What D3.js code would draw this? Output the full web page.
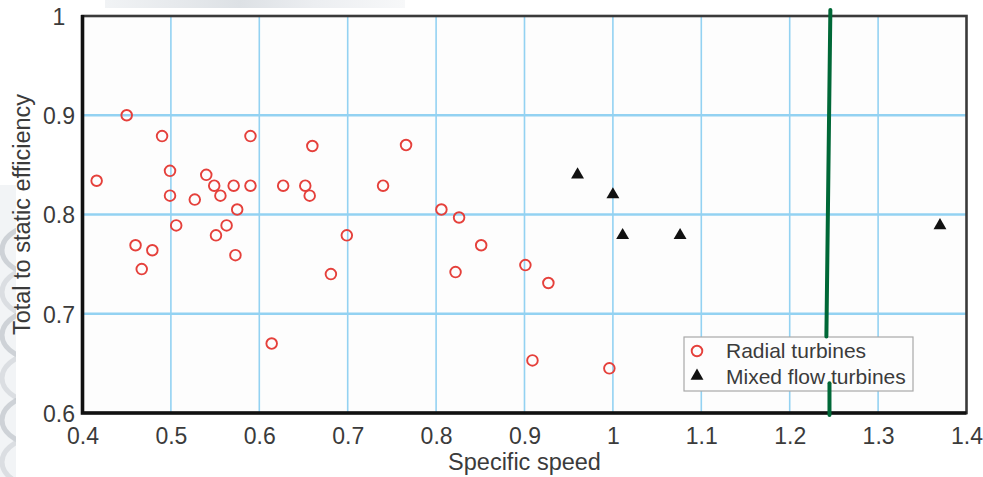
<!DOCTYPE html>
<html>
<head>
<meta charset="utf-8">
<script src="https://cdn.jsdelivr.net/npm/d3@7"></script>
<style>
  body { margin: 0; background: #fff; }
  svg { display: block; font-family: "Liberation Sans", Arial, sans-serif; }
</style>
</head>
<body>
<div class="chart"></div>
<script>
// radial turbines (open red circles)
const radialSpeed = [0.416, 0.45, 0.49, 0.499, 0.499, 0.527, 0.506, 0.46, 0.479, 0.467,
  0.54, 0.549, 0.556, 0.571, 0.59, 0.59, 0.575, 0.563, 0.551, 0.573,
  0.627, 0.652, 0.657, 0.66, 0.614, 0.681, 0.699, 0.74, 0.766, 0.806,
  0.826, 0.822, 0.851, 0.901, 0.927, 0.909, 0.996];
const radialEff = [0.834, 0.90, 0.879, 0.844, 0.819, 0.815, 0.789, 0.769, 0.764, 0.745,
  0.84, 0.829, 0.819, 0.829, 0.829, 0.879, 0.805, 0.789, 0.779, 0.759,
  0.829, 0.829, 0.819, 0.869, 0.67, 0.74, 0.779, 0.829, 0.87, 0.805,
  0.797, 0.742, 0.769, 0.749, 0.731, 0.653, 0.645];

// mixed flow turbines (black triangles)
const mixedSpeed = [0.96, 1.0, 1.011, 1.076, 1.37];
const mixedEff = [0.84, 0.82, 0.779, 0.779, 0.789];

const xTicks = [0.4, 0.5, 0.6, 0.7, 0.8, 0.9, 1, 1.1, 1.2, 1.3, 1.4];
const yTicks = [0.6, 0.7, 0.8, 0.9, 1];

// hand drawn green marker (two segments)
const markTop = [[1.246, 1.006], [1.2415, 0.677]];
const markBottom = [[1.245, 0.630], [1.245, 0.598]];

const width = 983, height = 477;
const pLeft = 82.5, pRight = 966.5, pTop = 16, pBottom = 413;

const x = d3.scaleLinear().domain([0.4, 1.4]).range([pLeft, pRight]);
const y = d3.scaleLinear().domain([0.6, 1]).range([pBottom, pTop]);

const svg = d3.select('.chart').append('svg')
  .attr('width', width)
  .attr('height', height);

// faint background picture remnants
const defs = svg.append('defs');
const g1 = defs.append('linearGradient').attr('id', 'topfade').attr('x1', 0).attr('x2', 1);
g1.append('stop').attr('offset', 0).attr('stop-color', '#f1f3f5');
g1.append('stop').attr('offset', 0.45).attr('stop-color', '#dde1e5');
g1.append('stop').attr('offset', 0.7).attr('stop-color', '#eceef1');
g1.append('stop').attr('offset', 1).attr('stop-color', '#f7f8f9');
svg.append('rect').attr('x', 105).attr('y', 0).attr('width', 300).attr('height', 8)
  .attr('fill', 'url(#topfade)');
defs.append('clipPath').attr('id', 'leftclip')
  .append('rect').attr('x', 0).attr('y', 185).attr('width', 16).attr('height', 292);
const swirl = svg.append('g').attr('clip-path', 'url(#leftclip)');
swirl.append('rect').attr('x', 0).attr('y', 185).attr('width', 16).attr('height', 292).attr('fill', '#f2f4f6');
[250, 292, 335, 378, 420, 462].forEach((cy, i) => {
  swirl.append('ellipse')
    .attr('cx', 44).attr('cy', cy).attr('rx', 42).attr('ry', 26)
    .attr('fill', 'none')
    .attr('stroke', i % 2 ? '#d3d7db' : '#c2c7cc')
    .attr('stroke-width', 5)
    .attr('opacity', 0.75);
});

// plot background
svg.append('rect')
  .attr('x', pLeft).attr('y', pTop)
  .attr('width', pRight - pLeft).attr('height', pBottom - pTop)
  .attr('fill', '#fdfdfd');

// grid
svg.append('g').selectAll('line')
  .data(xTicks.slice(1, -1))
  .join('line')
  .attr('x1', d => x(d)).attr('x2', d => x(d))
  .attr('y1', pTop).attr('y2', pBottom)
  .attr('stroke', '#93d2f2').attr('stroke-width', 1.6);

svg.append('g').selectAll('line')
  .data(yTicks.slice(1, -1))
  .join('line')
  .attr('x1', pLeft).attr('x2', pRight)
  .attr('y1', d => y(d)).attr('y2', d => y(d))
  .attr('stroke', '#93d2f2').attr('stroke-width', 2.6);

// frame
svg.append('rect')
  .attr('x', pLeft).attr('y', pTop)
  .attr('width', pRight - pLeft).attr('height', pBottom - pTop)
  .attr('fill', 'none').attr('stroke', '#3a3a3a').attr('stroke-width', 2.6);
svg.append('path')
  .attr('d', `M${pLeft},${pTop - 1}V${pBottom}H${pRight}`)
  .attr('fill', 'none').attr('stroke', '#111').attr('stroke-width', 3.6);

// axes (labels only)
const xAxis = svg.append('g')
  .attr('transform', `translate(0,${pBottom})`)
  .call(d3.axisBottom(x).tickValues(xTicks).tickSize(0).tickPadding(15).tickFormat(d3.format('')));
const yAxis = svg.append('g')
  .attr('transform', `translate(${pLeft},0)`)
  .call(d3.axisLeft(y).tickValues(yTicks).tickSize(0).tickFormat(d3.format('')));
[xAxis, yAxis].forEach(a => {
  a.select('.domain').remove();
  a.selectAll('text')
    .attr('fill', '#3b3b3b')
    .style('font-size', '23px')
    .style('font-family', '"Liberation Sans", Arial, sans-serif');
});
yAxis.selectAll('text').attr('text-anchor', 'middle').attr('x', 59 - pLeft).attr('dy', '0.36em');

svg.append('text')
  .attr('x', (pLeft + pRight) / 2).attr('y', 470)
  .attr('text-anchor', 'middle')
  .attr('fill', '#3b3b3b')
  .style('font-size', '23.5px')
  .text('Specific speed');

svg.append('text')
  .attr('transform', `translate(30,${(pTop + pBottom) / 2}) rotate(-90)`)
  .attr('text-anchor', 'middle')
  .attr('fill', '#3b3b3b')
  .style('font-size', '23.5px')
  .text('Total to static efficiency');

// data
svg.append('g').selectAll('circle')
  .data(radialSpeed.map((d, i) => [d, radialEff[i]]))
  .join('circle')
  .attr('cx', d => x(d[0])).attr('cy', d => y(d[1]))
  .attr('r', 5.3)
  .attr('fill', 'none')
  .attr('stroke', '#e5403b')
  .attr('stroke-width', 1.9);

const tri = d3.symbol().type(d3.symbolTriangle).size(72);
svg.append('g').selectAll('path')
  .data(mixedSpeed.map((d, i) => [d, mixedEff[i]]))
  .join('path')
  .attr('transform', d => `translate(${x(d[0])},${y(d[1])})`)
  .attr('d', tri)
  .attr('fill', '#111');

// legend
const lg = svg.append('g');
lg.append('rect')
  .attr('x', 684).attr('y', 337).attr('width', 229).attr('height', 54)
  .attr('fill', '#fdfdfd').attr('stroke', '#a9a9a9').attr('stroke-width', 1.2);
lg.append('circle')
  .attr('cx', 697).attr('cy', 351).attr('r', 5.3)
  .attr('fill', 'none').attr('stroke', '#e5403b').attr('stroke-width', 1.9);
lg.append('path')
  .attr('transform', 'translate(697,376)')
  .attr('d', tri).attr('fill', '#111');
lg.append('text').attr('x', 726).attr('y', 358)
  .attr('fill', '#3b3b3b').style('font-size', '21px').text('Radial turbines');
lg.append('text').attr('x', 726).attr('y', 384)
  .attr('fill', '#3b3b3b').style('font-size', '21px').text('Mixed flow turbines');

// green annotation line
const line = d3.line().x(d => x(d[0])).y(d => y(d[1]));
[markTop, markBottom].forEach(seg => {
  svg.append('path')
    .attr('d', line(seg))
    .attr('fill', 'none')
    .attr('stroke', '#006837')
    .attr('stroke-width', 4)
    .attr('stroke-linecap', 'round');
});
</script>
</body>
</html>
